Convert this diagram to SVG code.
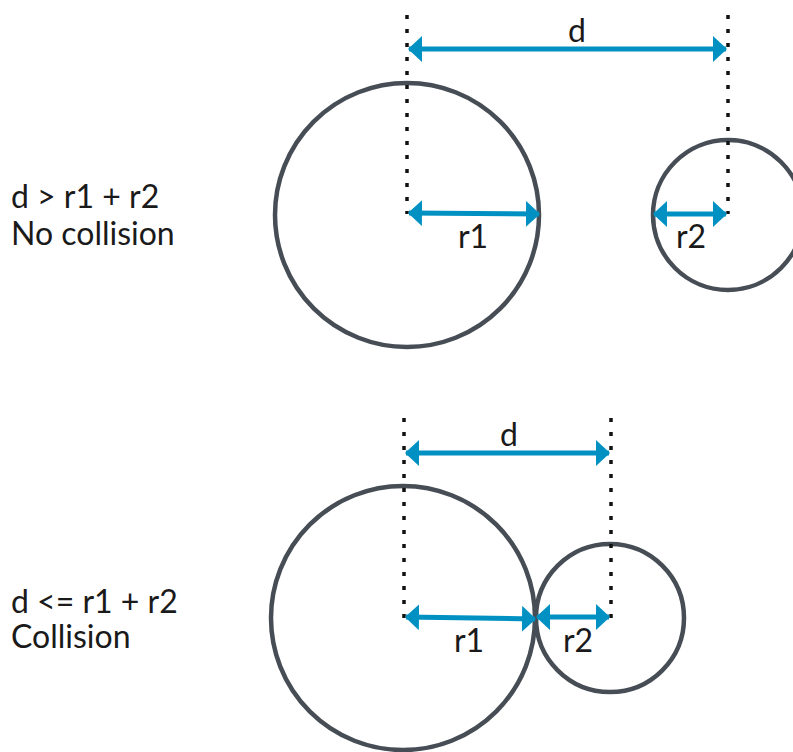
<svg xmlns="http://www.w3.org/2000/svg" width="793" height="752" viewBox="0 0 793 752">
<style>
.c{fill:none;stroke:#464d55;stroke-width:4.5}
.dot{stroke:#111;stroke-width:3.5;stroke-dasharray:4 10}
.ar{stroke:#0091c2;stroke-width:5;marker-start:url(#ah);marker-end:url(#ah)}
text{font-family:Lato,"Noto Sans","Liberation Sans",sans-serif;font-size:32px;fill:#1a1a1a}
.m{text-anchor:middle}
</style>
<defs>
<marker id="ah" markerUnits="userSpaceOnUse" markerWidth="14" markerHeight="26" viewBox="0 0 14 26" refX="13" refY="13" orient="auto-start-reverse">
<path d="M0,0 L14,13 L0,26 z" fill="#0091c2"/>
</marker>
</defs>
<rect width="793" height="752" fill="#fff"/>
<g id="label-top"><text x="11" y="208">d &gt; r1 + r2</text><text x="11" y="245">No collision</text></g>
<g id="label-bottom"><text x="11" y="613">d &lt;= r1 + r2</text><text x="11" y="648">Collision</text></g>
<g id="circle-top-1"><circle class="c" cx="407" cy="215" r="132"/></g>
<g id="circle-top-2"><circle class="c" cx="728" cy="215" r="75"/></g>
<g id="circle-bottom-1"><circle class="c" cx="403" cy="618" r="132"/></g>
<g id="circle-bottom-2"><circle class="c" cx="610" cy="618" r="74"/></g>
<g id="connectors">
<line class="dot" x1="407" y1="15" x2="407" y2="214"/>
<line class="dot" x1="728" y1="15" x2="728" y2="214"/>
<line class="dot" x1="404" y1="418" x2="404" y2="618"/>
<line class="dot" x1="611" y1="418" x2="611" y2="618"/>
<line class="ar" x1="409" y1="49" x2="726" y2="49"/>
<line class="ar" x1="409" y1="213" x2="539" y2="214"/>
<line class="ar" x1="654" y1="214" x2="726" y2="214"/>
<line class="ar" x1="406" y1="617" x2="535" y2="619"/>
<line class="ar" x1="537" y1="617" x2="609" y2="617"/>
<line class="ar" x1="406" y1="453" x2="609" y2="453"/>
</g>
<g id="dim-labels">
<text class="m" x="577" y="42">d</text>
<text class="m" x="473" y="248">r1</text>
<text class="m" x="691" y="248">r2</text>
<text class="m" x="509" y="446">d</text>
<text class="m" x="469" y="652">r1</text>
<text class="m" x="578" y="652">r2</text>
</g>
</svg>
